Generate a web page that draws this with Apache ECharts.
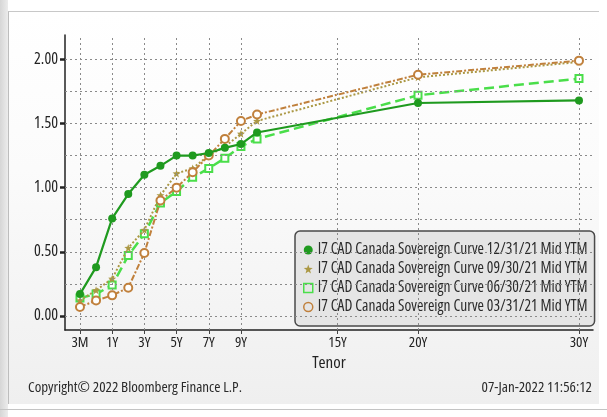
<!DOCTYPE html>
<html>
<head>
<meta charset="utf-8">
<script src="https://cdn.jsdelivr.net/npm/echarts@6/dist/echarts.min.js"></script>
<style>
  html, body { margin: 0; padding: 0; background: #fff; }
  #wrap { position: relative; width: 607px; height: 417px; overflow: hidden; }
  #leftband { position: absolute; left: 0; top: 0; width: 8px; height: 417px; background: linear-gradient(to right, #d6d6d6, #ececec); }
  #panel { position: absolute; left: 8px; top: 11px; width: 590px; height: 392px; border-top: 1px solid #c8c8c8; border-left: 1px solid #bdbdbd; background: linear-gradient(#ffffff 0%, #fbfbfb 40%, #efefef 100%); }
  #bottomline { position: absolute; left: 0; top: 409px; width: 607px; height: 1px; background: #c4c4c4; }
  #chart { position: absolute; left: 0; top: 0; width: 607px; height: 417px; }
</style>
</head>
<body>
<div id="wrap">
  <div id="leftband"></div>
  <div id="panel"></div>
  <div id="bottomline"></div>
  <div id="chart"></div>
</div>
<script>
// tenor positions on the x axis (3M and 6M squeezed before 1Y, like the Bloomberg axis)
const tenorPos = [-1, 0, 1, 2, 3, 4, 5, 6, 7, 8, 9, 10, 20, 30]
const tickPos = [-1, 1, 3, 5, 7, 9, 15, 20, 30]
const tickLabels = ['3M', '1Y', '3Y', '5Y', '7Y', '9Y', '15Y', '20Y', '30Y']
const yLabelValues = [0, 0.5, 1, 1.5, 2]
const yGridValues = [0, 0.25, 0.5, 0.75, 1, 1.25, 1.5, 1.75, 2]

const seriesNames = [
  'I7 CAD Canada Sovereign Curve 12/31/21 Mid YTM',
  'I7 CAD Canada Sovereign Curve 09/30/21 Mid YTM',
  'I7 CAD Canada Sovereign Curve 06/30/21 Mid YTM',
  'I7 CAD Canada Sovereign Curve 03/31/21 Mid YTM'
]
const yld1231 = [0.17, 0.38, 0.76, 0.95, 1.10, 1.17, 1.25, 1.25, 1.27, 1.31, 1.34, 1.43, 1.66, 1.68]
const yld0930 = [0.12, 0.20, 0.29, 0.53, 0.67, 0.94, 1.11, 1.15, 1.25, 1.32, 1.42, 1.52, 1.86, 1.98]
const yld0630 = [0.14, 0.17, 0.24, 0.47, 0.64, 0.88, 0.97, 1.08, 1.15, 1.23, 1.32, 1.38, 1.72, 1.85]
const yld0331 = [0.07, 0.12, 0.16, 0.22, 0.49, 0.90, 1.00, 1.12, 1.25, 1.38, 1.52, 1.57, 1.88, 1.99]

const colors = ['#1f9a1f', '#ab9844', '#4ade4a', '#c0803c']
const starPath = 'path://M5,0 L6.2,3.5 L10,3.8 L7,6.2 L8,10 L5,7.8 L2,10 L3,6.2 L0,3.8 L3.8,3.5 Z'
// condensed Open Sans stands in for the narrow Bloomberg font
const cond = { fontFamily: 'Open Sans', fontStyle: 'normal', fontWeight: 'condensed' }
const condFont = (size) => 'normal condensed ' + size + 'px "Open Sans"'

const pairs = (vals) => tenorPos.map((p, i) => [p, vals[i]])

const chart = echarts.init(document.getElementById('chart'))
const option = {
  backgroundColor: 'transparent',
  animation: false,
  grid: { left: 65, top: 35, right: 14, bottom: 87 },
  xAxis: {
    type: 'value',
    min: -1.93,
    max: 30.87,
    name: 'Tenor',
    nameLocation: 'middle',
    nameGap: 25,
    nameTextStyle: Object.assign({ fontSize: 17, color: '#222' }, cond),
    axisLine: { onZero: false, lineStyle: { color: '#222', width: 1.5 } },
    axisTick: { show: true, length: 4, customValues: tickPos, lineStyle: { color: '#444' } },
    axisLabel: Object.assign({
      customValues: tickPos,
      margin: 5,
      fontSize: 15,
      color: '#222',
      formatter: (v) => tickLabels[tickPos.indexOf(v)] || ''
    }, cond),
    splitLine: { show: false }
  },
  yAxis: {
    type: 'value',
    min: -0.11,
    max: 2.19,
    axisLine: { show: true, onZero: false, lineStyle: { color: '#222', width: 1.5 } },
    axisTick: { show: true, length: 5, customValues: yLabelValues, lineStyle: { color: '#222', width: 2.5 } },
    axisLabel: Object.assign({
      customValues: yLabelValues,
      margin: 7,
      fontSize: 16,
      color: '#222',
      formatter: (v) => v.toFixed(2)
    }, cond),
    splitLine: { show: false }
  },
  legend: {
    orient: 'vertical',
    left: 295,
    top: 231,
    padding: [11, 7, 11, 8],
    itemGap: 3,
    itemWidth: 9,
    itemHeight: 9,
    backgroundColor: 'rgba(226,226,226,0.85)',
    borderColor: '#4a4a4a',
    borderWidth: 1.5,
    borderRadius: 5,
    textStyle: Object.assign({ fontSize: 15.5, lineHeight: 16, color: '#2a2a2a' }, cond),
    data: [
      { name: seriesNames[0], icon: 'circle', itemStyle: { color: colors[0] } },
      { name: seriesNames[1], icon: starPath, itemStyle: { color: colors[1] } },
      { name: seriesNames[2], icon: 'rect', itemStyle: { color: 'transparent', borderColor: colors[2], borderWidth: 1.5 } },
      { name: seriesNames[3], icon: 'circle', itemStyle: { color: 'transparent', borderColor: colors[3], borderWidth: 1.5 } }
    ]
  },
  graphic: [
    {
      type: 'text', left: 28, top: 380,
      style: { text: 'Copyright© 2022 Bloomberg Finance L.P.', font: condFont(15), fill: '#2a2a2a' }
    },
    {
      type: 'text', right: 15, top: 380,
      style: { text: '07-Jan-2022 11:56:12', font: condFont(15), fill: '#2a2a2a' }
    }
  ],
  series: [
    {
      // dotted grid
      type: 'line',
      data: [],
      silent: true,
      z: 1,
      markLine: {
        silent: true,
        symbol: 'none',
        label: { show: false },
        lineStyle: { type: [2, 3], color: '#8a8a8a', width: 1 },
        data: yGridValues.map(v => ({ yAxis: v })).concat(tickPos.map(v => ({ xAxis: v })))
      }
    },
    {
      name: seriesNames[0],
      type: 'line',
      z: 6,
      data: pairs(yld1231),
      symbol: 'circle',
      symbolSize: 8,
      itemStyle: { color: colors[0] },
      lineStyle: { color: colors[0], width: 2.2 }
    },
    {
      name: seriesNames[1],
      type: 'line',
      z: 4,
      data: pairs(yld0930),
      symbol: starPath,
      symbolSize: 8,
      itemStyle: { color: colors[1] },
      lineStyle: { color: colors[1], width: 2, type: [2, 2] }
    },
    {
      name: seriesNames[2],
      type: 'line',
      z: 3,
      data: pairs(yld0630),
      symbol: 'emptyRect',
      symbolSize: 7,
      itemStyle: { color: colors[2], borderWidth: 1.5 },
      lineStyle: { color: colors[2], width: 2.5, type: [10, 5] }
    },
    {
      name: seriesNames[3],
      type: 'line',
      z: 5,
      data: pairs(yld0331),
      symbol: 'emptyCircle',
      symbolSize: 8,
      itemStyle: { color: colors[3], borderWidth: 1.5 },
      lineStyle: { color: colors[3], width: 2, type: [6, 2, 2, 2] }
    }
  ]
}
chart.setOption(option)
window.addEventListener('resize', () => {
  chart.resize()
})
</script>
</body>
</html>
